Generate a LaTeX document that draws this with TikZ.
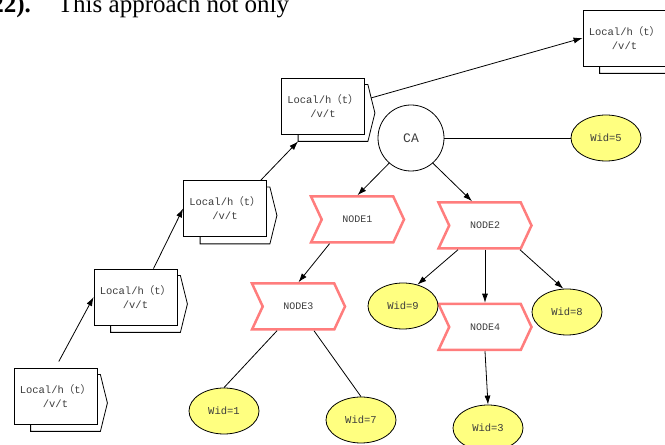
\documentclass[tikz,border=0pt]{standalone}
\usepackage{fontspec}
\setmainfont{Liberation Serif}
\newfontfamily\monofont{Liberation Mono}
\newfontfamily\cjk{Noto Sans CJK SC}
\usetikzlibrary{positioning, shapes.geometric, shapes.symbols, arrows.meta}

\definecolor{chevronred}{RGB}{255,125,125}
\definecolor{widyellow}{RGB}{255,255,128}
\definecolor{textgray}{RGB}{60,60,60}

\newcommand{\lhvt}{Local/h{\cjk （}t{\cjk ）}\\/v/t}
% second sheet behind a Local box, with its pointed right side
\newcommand{\docback}[1]{%
  \draw[line width=0.8pt] ([xshift=17pt]#1.south west) -- ++(0,-7pt)
    -- ([xshift=3pt,yshift=-7pt]#1.south east)
    -- ([xshift=10pt,yshift=-7pt]#1.east)
    -- ([xshift=3pt,yshift=-7pt]#1.north east)
    -- ([yshift=-7pt]#1.north east);
  \coordinate (#1-corner) at ([xshift=17pt,yshift=-7pt]#1.south west);}

\tikzset{
  docbox/.style={rectangle, draw, line width=0.8pt, fill=white, minimum width=83pt, minimum height=56pt, align=center, inner sep=2pt, font=\monofont\fontsize{10.5}{14}\selectfont, text=textgray},
  chevron/.style={signal, signal from=west, signal to=east, signal pointer angle=130, draw=chevronred, line width=2.5pt, minimum width=93pt, minimum height=46pt, inner sep=0pt, font=\monofont\fontsize{10}{11}\selectfont, text=textgray},
  widnode/.style={ellipse, draw, line width=0.8pt, fill=widyellow, minimum width=70pt, minimum height=46pt, inner sep=0pt, font=\monofont\fontsize{10.5}{12}\selectfont, text=textgray}
}

\begin{document}
\begin{tikzpicture}[x=1pt, y=1pt, line width=0.8pt, >={Latex[length=9pt,width=6pt]}]
\useasboundingbox (0,0) rectangle (665,445);
\node[anchor=base west, inner sep=0pt, font=\fontsize{25}{28}\selectfont] (quote) at (-9,432.5) {\textbf{22).}\hspace{27pt}This approach not only};

% Local/h(t)/v/t sheets
\node[docbox] (loc1) at (55.5,49) {\lhvt};
\node[docbox] (loc2) at (135.5,148) {\lhvt};
\node[docbox] (loc3) at (225,236.5) {\lhvt};
\node[docbox] (loc4) at (323,339) {\lhvt};
\node[docbox] (loc5) at (624.5,407) {\lhvt};
\foreach \b in {loc1,loc2,loc3,loc4,loc5} \docback{\b};

% tree
\node[circle, draw, minimum size=66pt, inner sep=0pt, font=\monofont\fontsize{13}{15}\selectfont, text=textgray] (ca) at (411,307) {CA};
\node[widnode] (wid5) at (606,307) {Wid=5};
\node[chevron] (node1) at (357.5,225.5) {NODE1};
\node[chevron] (node2) at (485,219.5) {NODE2};
\node[chevron] (node3) at (298.5,138.5) {NODE3};
\node[chevron] (node4) at (485,118) {NODE4};
\node[widnode] (wid9) at (403,139) {Wid=9};
\node[widnode] (wid8) at (567,133) {Wid=8};
\node[widnode] (wid3) at (488,17) {Wid=3};
\node[widnode] (wid1) at (224,34) {Wid=1};
\node[widnode] (wid7) at (361,25) {Wid=7};

\draw[->, shorten <=7pt] (loc1.north) -- (loc2.west);
\draw[->] ([xshift=18pt]loc2.north) -- (loc3.west);
\draw[->] ([xshift=-6pt]loc3.north east) -- (loc4-corner);
\draw[->] ([xshift=6pt,yshift=8pt]loc4.east) -- (loc5.west);

\draw (ca) -- (wid5);
\draw[->] (ca.229) -- (node1.north);
\draw[->] (ca.-49) -- ([xshift=-13pt]node2.north);
\draw[->] ([xshift=-28pt]node1.south) -- (node3.north);
\draw[->] ([xshift=-27pt]node2.south) -- (wid9.56);
\draw[->] (node2.south) -- (node4.north);
\draw[->] ([xshift=35pt]node2.south) -- (wid8.99);
\draw ([xshift=-21.5pt]node3.south) -- (wid1.north);
\draw ([xshift=15.5pt]node3.south) -- (wid7.north);
\draw[->] (node4.south) -- (wid3.north);
\end{tikzpicture}
\end{document}
